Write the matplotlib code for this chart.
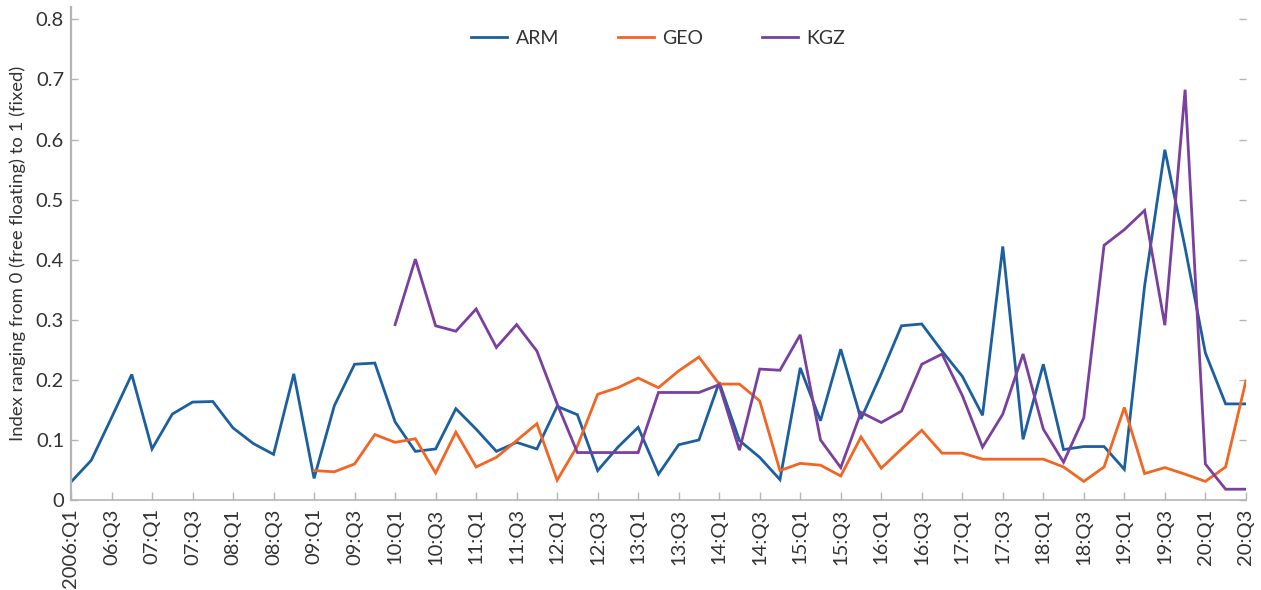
import numpy as np
import matplotlib
matplotlib.use('Agg')
import matplotlib.pyplot as plt

plt.rcParams['font.family'] = ['Lato', 'DejaVu Sans']

nan = np.nan

# quarterly index, 2006:Q1 .. 2020:Q3 (59 quarters)
arm = [0.030, 0.066, 0.137, 0.209, 0.085, 0.143, 0.163, 0.164,
       0.120, 0.094, 0.076, 0.210, 0.036, 0.157, 0.226, 0.228,
       0.130, 0.081, 0.085, 0.152, 0.118, 0.081, 0.096, 0.085,
       0.156, 0.142, 0.049, 0.088, 0.121, 0.043, 0.092, 0.100,
       0.196, 0.099, 0.071, 0.034, 0.220, 0.132, 0.251, 0.135,
       0.210, 0.290, 0.293, 0.248, 0.206, 0.141, 0.422, 0.101,
       0.226, 0.084, 0.089, 0.089, 0.051, 0.356, 0.583, 0.420,
       0.245, 0.160, 0.160]

geo = [nan] * 12 + [
       0.049, 0.047, 0.060, 0.109, 0.096, 0.102, 0.045, 0.113,
       0.055, 0.071, 0.099, 0.127, 0.033, 0.090, 0.176, 0.187,
       0.203, 0.187, 0.215, 0.238, 0.193, 0.193, 0.165, 0.049,
       0.061, 0.058, 0.040, 0.105, 0.053, 0.085, 0.116, 0.078,
       0.078, 0.068, 0.068, 0.068, 0.068, 0.055, 0.031, 0.055,
       0.154, 0.044, 0.054, 0.043, 0.031, 0.055, 0.198]

kgz = [nan] * 16 + [
       0.292, 0.401, 0.290, 0.281, 0.318, 0.254, 0.292, 0.248,
       0.160, 0.079, 0.079, 0.079, 0.079, 0.179, 0.179, 0.179,
       0.192, 0.083, 0.218, 0.216, 0.275, 0.100, 0.054, 0.146,
       0.129, 0.148, 0.226, 0.243, 0.174, 0.088, 0.143, 0.243,
       0.118, 0.063, 0.137, 0.424, 0.450, 0.482, 0.291, 0.683,
       0.060, 0.018, 0.018]

tick_labels = ['2006:Q1', '06:Q3', '07:Q1', '07:Q3', '08:Q1', '08:Q3',
               '09:Q1', '09:Q3', '10:Q1', '10:Q3', '11:Q1', '11:Q3',
               '12:Q1', '12:Q3', '13:Q1', '13:Q3', '14:Q1', '14:Q3',
               '15:Q1', '15:Q3', '16:Q1', '16:Q3', '17:Q1', '17:Q3',
               '18:Q1', '18:Q3', '19:Q1', '19:Q3', '20:Q1', '20:Q3']

series = [('ARM', arm, '#1c5f9f'), ('GEO', geo, '#f26522'), ('KGZ', kgz, '#7b3f9e')]

text_col = '#333333'
axis_col = '#b5b5b5'

fig = plt.figure(figsize=(12.61, 5.9), dpi=100)
ax = fig.add_axes([0.0563, 0.1525, 0.9317, 0.835])

x = np.arange(len(arm))
for name, vals, col in series:
    ax.plot(x, vals, color=col, lw=2.0, label=name, solid_joinstyle='miter')

ax.set_xlim(0, len(arm) - 1)
ax.set_ylim(0, 0.82)
ax.set_xticks(x[::2])
ax.set_xticklabels(tick_labels, rotation=90)
ax.set_yticks(np.arange(0, 0.81, 0.1))
ax.set_yticklabels(['0'] + [f'{v:.1f}' for v in np.arange(0.1, 0.81, 0.1)])

for s in ['top', 'right']:
    ax.spines[s].set_visible(False)
ax.spines['left'].set_color(axis_col)
ax.spines['left'].set_linewidth(1.6)
ax.spines['bottom'].set_color(axis_col)
ax.spines['bottom'].set_linewidth(1.2)

ax.tick_params(axis='x', direction='in', length=6, width=1, color=axis_col,
               labelsize=14.5, labelcolor=text_col, pad=6)
ax.tick_params(axis='y', direction='in', length=5, width=1, color=axis_col,
               labelsize=14.5, labelcolor=text_col, pad=5,
               right=True, labelright=False)

ax.set_ylabel('Index ranging from 0 (free floating) to 1 (fixed)',
              fontsize=13.3, color=text_col, labelpad=7)

ax.legend(loc='upper center', bbox_to_anchor=(0.5, 0.99), ncol=3, frameon=False,
          fontsize=14, handlelength=1.85, columnspacing=3.0, handletextpad=0.45,
          labelcolor=text_col)

fig.savefig('out.png', dpi=100)
